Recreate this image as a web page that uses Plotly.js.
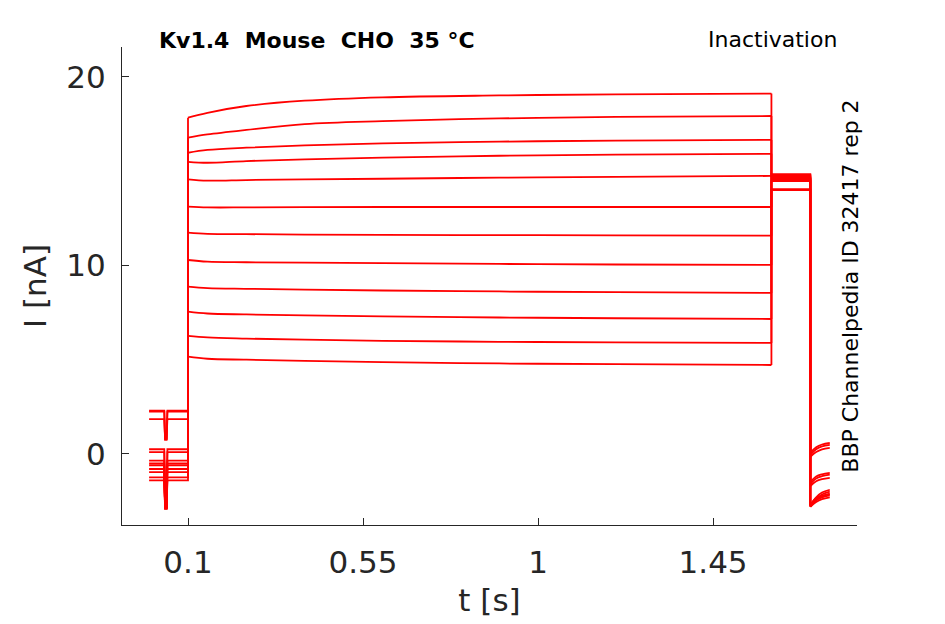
<!DOCTYPE html>
<html>
<head>
<meta charset="utf-8">
<script src="https://cdn.plot.ly/plotly-3.0.1.min.js"></script>
<style>html,body{margin:0;padding:0;background:#fff;}#chart{width:945px;height:624px;}</style>
</head>
<body>
<div id="chart"></div>
<script>
// ---- data ----
const xTickVals = [0.1, 0.55, 1, 1.45];
const xTickText = ["0.1", "0.55", "1", "1.45"];
const yTickVals = [0, 10, 20];
const yTickText = ["0", "10", "20"];

// pre-pulse segment (holding current with short test dip)
const preTimes = [0, 0.039, 0.041, 0.045, 0.047, 0.1];
const holding = [2.3, 2.25, 1.85, 0.25, 0.1, -0.35, -0.5, -0.6, -0.8, -0.97, -1.24, -1.4];
const dipLevel = [0.75, 0.8, 0.8, -2.8, -2.85, -2.85, -2.9, -2.85, -2.8, -2.9, -2.85, -2.9];

// main step segment
const stepTimes = [0.1, 0.15, 0.25, 0.4, 0.6, 0.9, 1.2, 1.6];
const step1  = [17.84, 18.1, 18.46, 18.74, 18.92, 19.02, 19.08, 19.12];
const step2  = [16.78, 16.95, 17.19, 17.5, 17.66, 17.8, 17.88, 17.93];
const step3  = [15.98, 16.13, 16.25, 16.37, 16.48, 16.57, 16.62, 16.66];
const step4  = [15.5, 15.45, 15.54, 15.63, 15.72, 15.82, 15.88, 15.92];
const step5  = [14.57, 14.5, 14.53, 14.57, 14.6, 14.66, 14.7, 14.75];
const step6  = [13.12, 13.08, 13.08, 13.09, 13.1, 13.1, 13.1, 13.1];
const step7  = [11.74, 11.68, 11.66, 11.64, 11.62, 11.61, 11.6, 11.58];
const step8  = [10.29, 10.2, 10.17, 10.15, 10.12, 10.08, 10.05, 10.03];
const step9  = [8.88, 8.8, 8.76, 8.72, 8.67, 8.62, 8.58, 8.54];
const step10 = [7.55, 7.45, 7.4, 7.35, 7.3, 7.24, 7.2, 7.16];
const step11 = [6.26, 6.18, 6.12, 6.06, 6.0, 5.95, 5.92, 5.89];
const step12 = [5.16, 5.05, 5.0, 4.94, 4.87, 4.8, 4.76, 4.72];
const steps = [step1, step2, step3, step4, step5, step6, step7, step8, step9, step10, step11, step12];

// tail segment
const tailTimes = [1.6, 1.7];
const tailLevel = [14.8, 14.75, 14.7, 14.65, 14.6, 14.55, 14.5, 14.47, 14.85, 14.05, 14.0, 14.6];

// recovery segment
const recTimes = [1.7, 1.715, 1.73, 1.75];
const recStart = [0.05, -0.05, -0.15, -1.5, -1.6, -1.7, -2.7, -2.75, -2.8, -2.7, -2.75, -2.8];
const recMid1  = [0.35, 0.25, 0.1, -1.2, -1.3, -1.45, -2.3, -2.4, -2.45, -2.35, -2.45, -2.55];
const recMid2  = [0.5, 0.4, 0.24, -1.08, -1.18, -1.34, -2.05, -2.15, -2.25, -2.22, -2.3, -2.4];
const recEnd   = [0.58, 0.48, 0.32, -1.0, -1.1, -1.27, -1.9, -2.0, -2.1, -2.15, -2.2, -2.3];

// ---- build traces ----
const RED = '#ff0000';
const LW = 1.8;
const traces = [];
function addTrace(x, y, shape) {
  traces.push({
    type: 'scatter', mode: 'lines', x: x, y: y,
    line: {color: RED, width: LW, shape: shape, smoothing: 1},
    hoverinfo: 'skip', showlegend: false
  });
}
for (let i = 0; i < steps.length; i++) {
  const s = steps[i];
  // holding + test dip, then the jump up to the step
  addTrace(preTimes.concat([stepTimes[0]]),
           [holding[i], holding[i], dipLevel[i], dipLevel[i], holding[i], holding[i], s[0]], 'linear');
  // step (smooth)
  addTrace(stepTimes, s, 'spline');
  // drop to tail level, tail, and drop to recovery start
  addTrace([stepTimes[stepTimes.length - 1], tailTimes[0], tailTimes[1], recTimes[0]],
           [s[s.length - 1], tailLevel[i], tailLevel[i], recStart[i]], 'linear');
  // recovery (smooth)
  addTrace(recTimes, [recStart[i], recMid1[i], recMid2[i], recEnd[i]], 'spline');
}

const FONT = '"DejaVu Sans", sans-serif';
const tickFont = {family: FONT, size: 31, color: '#262626'};

const layout = {
  width: 945, height: 624,
  margin: {l: 122, r: 88, t: 47, b: 99},
  paper_bgcolor: '#ffffff', plot_bgcolor: '#ffffff',
  showlegend: false,
  xaxis: {
    range: [-0.0697, 1.82],
    tickvals: xTickVals, ticktext: xTickText,
    ticks: 'inside', ticklen: 7, tickwidth: 1, tickcolor: '#262626',
    showline: true, linecolor: '#262626', linewidth: 1,
    showgrid: false, zeroline: false,
    tickfont: tickFont, ticklabelstandoff: 10,
    title: {text: 't [s]', font: tickFont, standoff: 10}
  },
  yaxis: {
    range: [-3.77, 21.59],
    tickvals: yTickVals, ticktext: yTickText,
    ticks: 'inside', ticklen: 7, tickwidth: 1, tickcolor: '#262626',
    showline: true, linecolor: '#262626', linewidth: 1,
    showgrid: false, zeroline: false,
    tickfont: tickFont, ticklabelstandoff: 9,
    title: {text: 'I [nA]', font: tickFont, standoff: 10}
  },
  annotations: [
    {text: '<b>Kv1.4  Mouse  CHO  35 °C</b>', xref: 'paper', yref: 'paper',
     x: 0.047, y: 1.0146, xanchor: 'left', yanchor: 'middle', showarrow: false,
     font: {family: FONT, size: 22, color: '#000'}},
    {text: 'Inactivation', xref: 'paper', yref: 'paper',
     x: 0.976, y: 1.0167, xanchor: 'right', yanchor: 'middle', showarrow: false,
     font: {family: FONT, size: 22, color: '#000'}},
    {text: 'BBP Channelpedia ID 32417 rep 2', xref: 'paper', yref: 'paper',
     x: 0.990, y: 0.5, xanchor: 'center', yanchor: 'middle', showarrow: false, textangle: -90,
     font: {family: FONT, size: 22, color: '#000'}}
  ]
};

Plotly.newPlot('chart', traces, layout, {staticPlot: true, displayModeBar: false});
</script>
</body>
</html>
